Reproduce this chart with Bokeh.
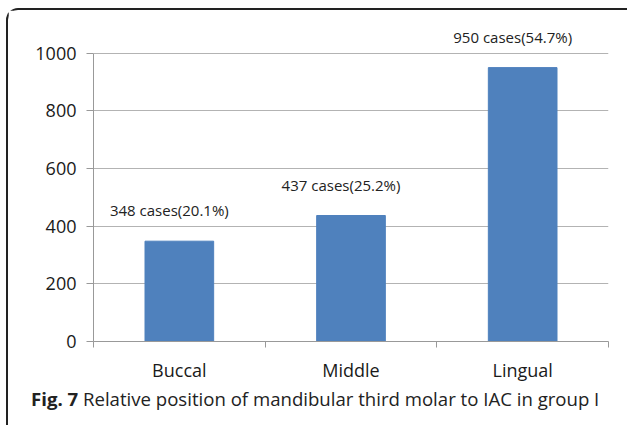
from bokeh.plotting import figure
from bokeh.models import FixedTicker, ColumnDataSource, Range1d, Div
from bokeh.layouts import column
from bokeh.core.properties import value
from bokeh.embed import file_html
from bokeh.resources import INLINE

categories = ["Buccal", "Middle", "Lingual"]
cases = [348, 437, 950]
labels = ["348 cases(20.1%)", "437 cases(25.2%)", "950 cases(54.7%)"]
y_ticks = [0, 200, 400, 600, 800, 1000]
caption_bold = "Fig. 7"
caption_text = "Relative position of mandibular third molar to IAC in group I"

xs = [i + 0.5 for i in range(len(categories))]
src = ColumnDataSource(dict(x=xs, top=cases, label=labels))

FONT = "Open Sans"

p = figure(width=617, height=374, output_backend="svg", toolbar_location=None,
           x_range=Range1d(0, 3), y_range=Range1d(0, 1106.5),
           min_border_left=85, min_border_right=17, min_border_top=12, min_border_bottom=40)
p.outline_line_color = None

p.vbar(x="x", top="top", width=0.4, source=src, color="#4f81bd")
p.text(x="x", y="top", text="label", source=src, x_offset=-10, y_offset=-31,
       text_align="center", text_baseline="middle", text_font=value(FONT),
       text_font_size="15px", text_color="#222222")

# y axis
p.yaxis.ticker = FixedTicker(ticks=y_ticks)
p.yaxis.bounds = (0, 1000)
p.yaxis.axis_line_color = "#999999"
p.yaxis.major_tick_line_color = "#999999"
p.yaxis.major_tick_out = 7
p.yaxis.major_tick_in = 0
p.yaxis.minor_tick_line_color = None
p.yaxis.major_label_standoff = 10
p.yaxis.major_label_text_font = FONT
p.yaxis.major_label_text_font_size = "18px"
p.yaxis.major_label_text_color = "#1a1a1a"

# x axis
p.xaxis.ticker = FixedTicker(ticks=xs, minor_ticks=[0, 1, 2, 3])
p.xaxis.major_label_overrides = {x: c for x, c in zip(xs, categories)}
p.xaxis.axis_line_color = "#999999"
p.xaxis.major_tick_line_color = None
p.xaxis.major_tick_out = 0
p.xaxis.major_tick_in = 0
p.xaxis.minor_tick_line_color = "#999999"
p.xaxis.minor_tick_out = 6
p.xaxis.minor_tick_in = 0
p.xaxis.major_label_standoff = 10
p.xaxis.major_label_text_font = FONT
p.xaxis.major_label_text_font_size = "18px"
p.xaxis.major_label_text_color = "#1a1a1a"

p.xgrid.grid_line_color = None
p.ygrid.grid_line_color = "#b3b3b3"
p.ygrid.ticker = FixedTicker(ticks=y_ticks)

cap = Div(text=f"<b>{caption_bold}</b> {caption_text}", width=617, height=40,
          styles={"font-family": FONT, "font-size": "18.6px", "color": "#222222",
                  "line-height": "20px", "padding-left": "18px", "white-space": "nowrap"})

layout = column(p, cap, spacing=0,
                styles={"border-left": "2px solid #222", "border-top": "2px solid #222",
                        "border-top-left-radius": "12px", "margin-left": "6px",
                        "margin-top": "8px"})

open("out.html", "w").write(file_html(layout, INLINE))
